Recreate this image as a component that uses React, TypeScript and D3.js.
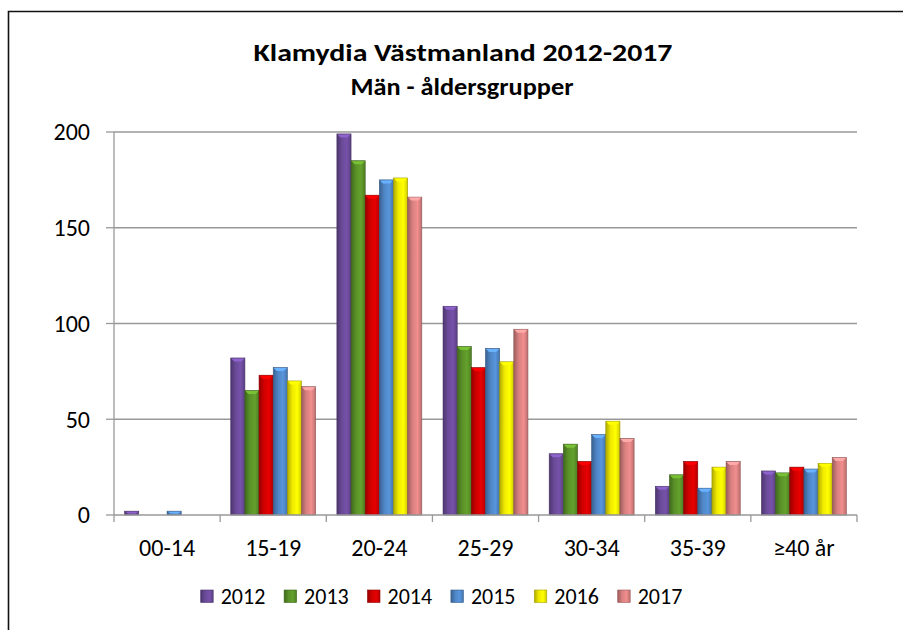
import React from "react";
import * as d3 from "d3";

const categories = ["00-14", "15-19", "20-24", "25-29", "30-34", "35-39", "≥40 år"];
const years = ["2012", "2013", "2014", "2015", "2016", "2017"];
const v2012 = [2, 82, 199, 109, 32, 15, 23];
const v2013 = [0, 65, 185, 88, 37, 21, 22];
const v2014 = [0, 73, 167, 77, 28, 28, 25];
const v2015 = [2, 77, 175, 87, 42, 14, 24];
const v2016 = [0, 70, 176, 80, 49, 25, 27];
const v2017 = [0, 67, 166, 97, 40, 28, 30];
const series = [v2012, v2013, v2014, v2015, v2016, v2017];
const colors = ["#6a4a98", "#5a9128", "#d00000", "#4f86c6", "#f0ea00", "#d98080"];
const yTicks = [0, 50, 100, 150, 200];
const titleLines = ["Klamydia Västmanland 2012-2017", "Män - åldersgrupper"];

const W = 903;
const H = 630;
const m = { left: 114, right: 857, top: 132, bottom: 515 };
const FONT = "Carlito, Calibri, Lato, 'Open Sans', sans-serif";

export default function App() {
  const x = d3.scaleBand<string>().domain(categories).range([m.left, m.right]).paddingInner(0).paddingOuter(0);
  const y = d3.scaleLinear().domain([0, 200]).range([m.bottom, m.top]);
  const bw = x.bandwidth() / 7.5;
  const groupOff = (x.bandwidth() - bw * 6) / 2;

  return (
    <div style={{ position: "absolute", left: 0, top: 0, width: W, height: H, overflow: "hidden" }}>
      <svg width={W} height={H} style={{ display: "block", background: "#fff" }}>
        <defs>
          {colors.map((c, i) => {
            const dark = d3.color(c)!.darker(0.9).formatHex();
            const light = d3.color(c)!.brighter(0.3).formatHex();
            return (
              <linearGradient key={i} id={`g${i}`} x1="0" x2="1" y1="0" y2="0">
                <stop offset="0" stopColor={dark} />
                <stop offset="0.35" stopColor={c} />
                <stop offset="0.7" stopColor={light} />
                <stop offset="1" stopColor={d3.color(c)!.darker(0.4).formatHex()} />
              </linearGradient>
            );
          })}
        </defs>
        <path d={`M8.5,${H}L8.5,11.5L${W},11.5`} fill="none" stroke="#111" strokeWidth={1.6} />
        <text x={463} y={61} textAnchor="middle" fontFamily={FONT} fontWeight="bold" fontSize={25} fill="#000" textLength={419} lengthAdjust="spacingAndGlyphs">
          {titleLines[0]}
        </text>
        <text x={462} y={95} textAnchor="middle" fontFamily={FONT} fontWeight="bold" fontSize={25} fill="#000" textLength={223} lengthAdjust="spacingAndGlyphs">
          {titleLines[1]}
        </text>
        {yTicks.map((t) => (
          <g key={t}>
            {t > 0 && <line x1={m.left} x2={m.right} y1={y(t)} y2={y(t)} stroke="#999" strokeWidth={1.3} />}
            <line x1={106} x2={m.left} y1={y(t)} y2={y(t)} stroke="#999" strokeWidth={1.3} />
            <text x={90} y={y(t)} dy="0.35em" textAnchor="end" fontFamily={FONT} fontSize={24} fill="#000">
              {t}
            </text>
          </g>
        ))}
        {categories.map((c, ci) => (
          <g key={c}>
            {series.map((s, si) => {
              const v = s[ci];
              if (v <= 0) return null;
              const bx = x(c)! + groupOff + si * bw;
              const by = y(v);
              const h = y(0) - by;
              const cap = Math.min(3, h / 2);
              return (
                <g key={si}>
                  <rect x={bx} y={by} width={bw} height={h} fill={`url(#g${si})`} stroke={d3.color(colors[si])!.darker(1.2).formatHex()} strokeWidth={0.6} />
                  <path
                    d={`M${bx + 0.5},${by + 0.5}L${bx + bw - 0.5},${by + 0.5}L${bx + bw - 3.5},${by + cap + 0.5}L${bx + 3.5},${by + cap + 0.5}Z`}
                    fill={d3.color(colors[si])!.brighter(0.8).formatHex()}
                  />
                </g>
              );
            })}
            <text x={x(c)! + x.bandwidth() / 2} y={548} dy="0.35em" textAnchor="middle" fontFamily={FONT} fontSize={24} fill="#000">
              {c}
            </text>
          </g>
        ))}
        <line x1={m.left} x2={m.left} y1={m.top} y2={m.bottom} stroke="#999" strokeWidth={1.3} />
        <line x1={m.left} x2={m.right} y1={m.bottom} y2={m.bottom} stroke="#999" strokeWidth={1.3} />
        {categories.concat([""]).map((c, i) => {
          const tx = m.left + i * x.bandwidth();
          return <line key={i} x1={tx} x2={tx} y1={m.bottom} y2={522} stroke="#999" strokeWidth={1.3} />;
        })}
        {years.map((yr, i) => {
          const lx = 200.7 + i * 83.4;
          return (
            <g key={yr}>
              <rect x={lx} y={590} width={12.5} height={12.5} fill={`url(#g${i})`} stroke={d3.color(colors[i])!.darker(1).formatHex()} strokeWidth={0.6} />
              <text x={lx + 20} y={596.5} dy="0.35em" fontFamily={FONT} fontSize={22} fill="#000">
                {yr}
              </text>
            </g>
          );
        })}
      </svg>
    </div>
  );
}
